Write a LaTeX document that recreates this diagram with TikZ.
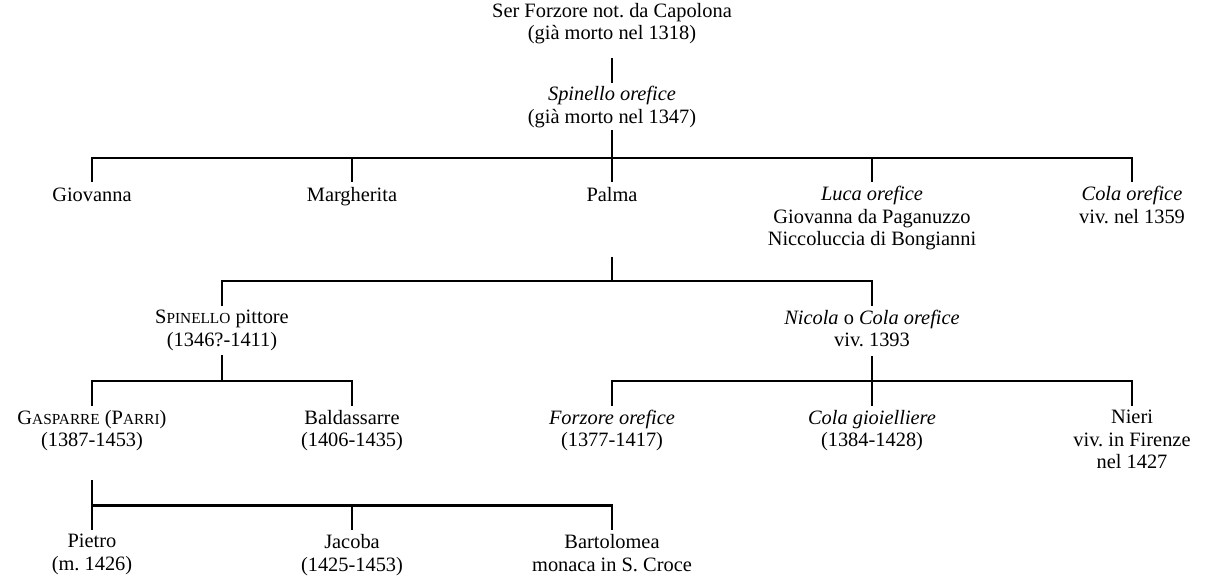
\documentclass[tikz,border=0pt]{standalone}
\usepackage{fontspec}
\setmainfont{Liberation Serif}
\frenchspacing
\newcommand\fs{\fontsize{15.3}{16.9}\selectfont\frenchspacing}
\newcommand\smc[1]{{\fontsize{11.5}{16.9}\selectfont #1}}
\begin{document}
\begin{tikzpicture}[x=0.75pt,y=-0.75pt,
  person/.style={anchor=north,align=center,inner sep=0pt,font=\fs,
    execute at begin node=\strut,execute at end node=\strut},
  vline/.style={line width=1.5pt},
  hbar/.style={line width=2.2pt,line cap=rect,shorten <=0.35pt,shorten >=0.35pt},
  tick/.style={vline,shorten >=2.8pt}]
\fill[white] (0,0) rectangle (1210,576);
\useasboundingbox (0,0) rectangle (1210,576);

% generation 0 and 1
\node[person] (top) at (612,2.7) {Ser Forzore not. da Capolona\\(già morto nel 1318)};
\node[person] (spin) at (612,85.9) {\textit{Spinello orefice}\\(già morto nel 1347)};

% row 1
\node[person] (giov)  at (92,185.9)  {Giovanna};
\node[person] (marg)  at (352,185.9) {Margherita};
\node[person] (palma) at (612,185.9) {Palma};
\node[person] (luca)  at (872,185.9) {\textit{Luca orefice}\\Giovanna da Paganuzzo\\Niccoluccia di Bongianni};
\node[person] (colaA) at (1132,185.9) {\textit{Cola orefice}\\viv. nel 1359};

% row 2
\node[person] (spinp)  at (222,309.7) {S\smc{PINELLO} pittore\\(1346?-1411)};
\node[person] (nicola) at (872,309.7) {\textit{Nicola} o \textit{Cola orefice}\\viv. 1393};

% row 3
\node[person] (gasp)  at (92,409.7)   {G\smc{ASPARRE} (P\smc{ARRI})\\(1387-1453)};
\node[person] (bald)  at (352,409.7)  {Baldassarre\\(1406-1435)};
\node[person] (forz)  at (612,409.7)  {\textit{Forzore orefice}\\(1377-1417)};
\node[person] (colag) at (872,409.7)  {\textit{Cola gioielliere}\\(1384-1428)};
\node[person] (nieri) at (1132,409.7) {Nieri\\viv. in Firenze\\nel 1427};

% row 4
\node[person] (pietro) at (92,534.2)  {Pietro\\(m. 1426)};
\node[person] (jacoba) at (352,534.2) {Jacoba\\(1425-1453)};
\node[person] (bart)   at (612,534.2) {Bartolomea\\monaca in S. Croce};

% helper coordinates
\coordinate (bar1) at (612,158);
\coordinate (r1bot) at (612,256.7);
\coordinate (bar2) at (612,281);
\coordinate (bar3) at (612,381);
\coordinate (r3bot) at (92,480);
\coordinate (bar4) at (92,505.5);

% connectors
\draw[vline,shorten <=8.4pt,shorten >=2.2pt] (top) -- (spin);
\draw[vline] (spin) -- (spin |- bar1);
\draw[hbar] (giov |- bar1) -- (colaA |- bar1);
\foreach \n in {giov,marg,palma,luca,colaA} \draw[tick] (\n |- bar1) -- (\n);

\draw[vline] (palma |- r1bot) -- (palma |- bar2);
\draw[hbar] (spinp |- bar2) -- (nicola |- bar2);
\foreach \n in {spinp,nicola} \draw[tick] (\n |- bar2) -- (\n);

\draw[vline,shorten <=1.6pt] (spinp) -- (spinp |- bar3);
\draw[vline,shorten <=1.6pt] (nicola) -- (nicola |- bar3);
\draw[hbar] (gasp |- bar3) -- (bald |- bar3);
\draw[hbar] (forz |- bar3) -- (nieri |- bar3);
\foreach \n in {gasp,bald,forz,colag,nieri} \draw[tick] (\n |- bar3) -- (\n);

\draw[vline] (gasp |- r3bot) -- (gasp |- bar4);
\draw[hbar] (pietro |- bar4) -- (bart |- bar4);
\foreach \n in {pietro,jacoba,bart} \draw[tick] (\n |- bar4) -- (\n);
\end{tikzpicture}
\end{document}
